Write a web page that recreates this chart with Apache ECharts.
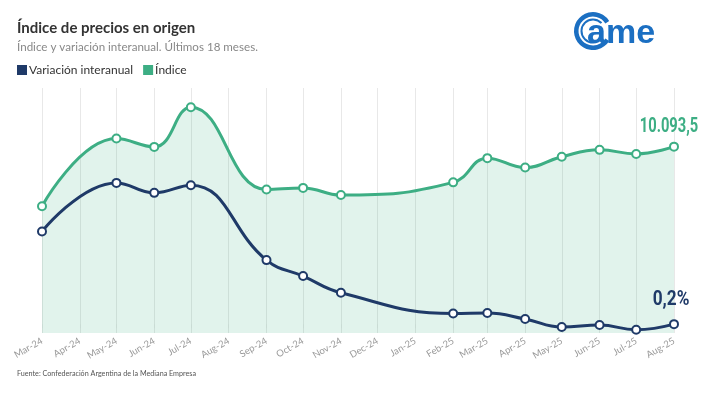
<!DOCTYPE html>
<html>
<head>
<meta charset="utf-8">
<script src="https://cdn.jsdelivr.net/npm/echarts@6/dist/echarts.min.js"></script>
<style>
html,body{margin:0;padding:0;background:#fff;}
#c{width:706px;height:397px;}
</style>
</head>
<body>
<div id="c"></div>
<script>
// ---- data ----
var dates = ['2024-03-01','2024-05-01','2024-06-01','2024-07-01','2024-09-01','2024-10-01','2024-11-01',
             '2025-02-01','2025-03-01','2025-04-01','2025-05-01','2025-06-01','2025-07-01','2025-08-01'];
var indice = [6870, 10530, 10080, 12230, 7770, 7860, 7470, 8160, 9470, 8960, 9550, 9920, 9700, 10093.5];
var variacion = [231.9, 353.6, 328.6, 347.9, 160.4, 120.4, 78.7, 26.7, 28.0, 13.0, -7.0, -2.0, -13.8, 0.2];
var monthNames = ['Jan','Feb','Mar','Apr','May','Jun','Jul','Aug','Sep','Oct','Nov','Dec'];
var seriesNames = ['Variación interanual', 'Índice'];
var lastLabels = ['0,2%', '10.093,5'];

var GREEN = '#3dae84';
var NAVY = '#1f3a68';

function buildData(vals) {
  return dates.map(function (d, i) { return [d, vals[i]]; });
}

var chart = echarts.init(document.getElementById('c'), null, {renderer: 'canvas'});
var option = {
  animation: false,
  backgroundColor: '#fff',
  textStyle: {fontFamily: 'Lato, sans-serif'},
  title: {
    text: 'Índice de precios en origen',
    subtext: 'Índice y variación interanual. Últimos 18 meses.',
    left: 17, top: 21, padding: 0, itemGap: 5,
    textStyle: {fontSize: 15, fontWeight: 'bold', color: '#333', fontFamily: 'Lato, sans-serif'},
    subtextStyle: {fontSize: 11.6, color: '#888', fontFamily: 'Lato, sans-serif'}
  },
  legend: {
    left: 17, top: 64, padding: 0, itemGap: 10,
    itemWidth: 10, itemHeight: 10, icon: 'rect',
    textStyle: {fontSize: 12, color: '#333', padding: [0, 0, 0, -3]},
    data: [
      {name: seriesNames[0], itemStyle: {color: NAVY}},
      {name: seriesNames[1], itemStyle: {color: GREEN}}
    ]
  },
  grid: {left: 42, right: 32, top: 88, bottom: 64},
  xAxis: {
    type: 'time',
    min: '2024-03-01', max: '2025-08-01',
    splitNumber: 17,
    minInterval: 28 * 86400000,
    maxInterval: 31 * 86400000,
    axisLine: {show: false},
    axisTick: {show: true, length: 4, lineStyle: {color: '#e3e3e3'}},
    splitLine: {show: true, lineStyle: {color: '#e8e8e8', width: 1}},
    axisLabel: {
      rotate: 30, color: '#9a9a9a', fontSize: 9.5, margin: 7,
      showMinLabel: true, showMaxLabel: true,
      formatter: function (v) {
        var d = new Date(v);
        return monthNames[d.getMonth()] + '-' + String(d.getFullYear()).slice(2);
      }
    }
  },
  yAxis: [
    {type: 'value', min: -22, max: 591, show: false},
    {type: 'value', min: 0, max: 13270, show: false}
  ],
  series: [
    {
      name: seriesNames[0], type: 'line', yAxisIndex: 0, z: 4,
      smooth: 0.45, symbol: 'emptyCircle', symbolSize: 8, showAllSymbol: true,
      color: NAVY,
      lineStyle: {width: 3, color: NAVY},
      itemStyle: {color: NAVY, borderWidth: 2.2},
      data: buildData(variacion)
    },
    {
      name: seriesNames[1], type: 'line', yAxisIndex: 1, z: 3,
      smooth: 0.45, symbol: 'emptyCircle', symbolSize: 8, showAllSymbol: true,
      color: GREEN,
      lineStyle: {width: 3, color: GREEN},
      itemStyle: {color: GREEN, borderWidth: 2.2},
      areaStyle: {color: 'rgba(61,174,132,0.22)', origin: 'start'},
      data: buildData(indice)
    }
  ],
  graphic: [
    {
      type: 'text', left: 17, top: 370,
      style: {text: 'Fuente: Confederación Argentina de la Mediana Empresa', fontSize: 7.2, fill: '#555', fontFamily: 'Lato, sans-serif'}
    },
    {
      type: 'group', left: 574, top: 12,
      children: [
        {type: 'sector', shape: {cx: 19, cy: 19, r: 19, r0: 14.5, startAngle: 0.55, endAngle: Math.PI * 2 - 0.55, clockwise: true}, style: {fill: '#1b6fc2'}},
        {type: 'sector', shape: {cx: 19, cy: 19, r: 12.5, r0: 10.5, startAngle: 0.75, endAngle: Math.PI * 2 - 0.75, clockwise: true}, style: {fill: '#1b6fc2'}},
        {type: 'text', x: 13, y: 39, style: {text: 'ame', fontSize: 34, fontWeight: 'bold', fill: '#1b6fc2', fontFamily: "'Liberation Sans',Arial,sans-serif", verticalAlign: 'bottom'}}
      ]
    }
  ]
};
chart.setOption(option);

// End-of-line value labels, anchored at the last data point through the chart's own scales
var last = dates.length - 1;
var pVar = chart.convertToPixel({seriesIndex: 0}, [dates[last], variacion[last]]);
var pIdx = chart.convertToPixel({seriesIndex: 1}, [dates[last], indice[last]]);
function endLabel(id, p, text, color, dx, dy, sx) {
  return {
    id: id, type: 'text', x: p[0] + dx, y: p[1] + dy, scaleX: sx, z: 10,
    style: {text: text, fill: color, fontSize: 21, fontWeight: 'bold',
            fontFamily: 'Roboto, sans-serif', align: 'center', verticalAlign: 'middle'}
  };
}
chart.setOption({
  graphic: [
    endLabel('lblIdx', pIdx, lastLabels[1], GREEN, -5, -20, 0.7),
    endLabel('lblVar', pVar, lastLabels[0], NAVY, -3, -24, 0.82)
  ]
});
</script>
</body>
</html>
